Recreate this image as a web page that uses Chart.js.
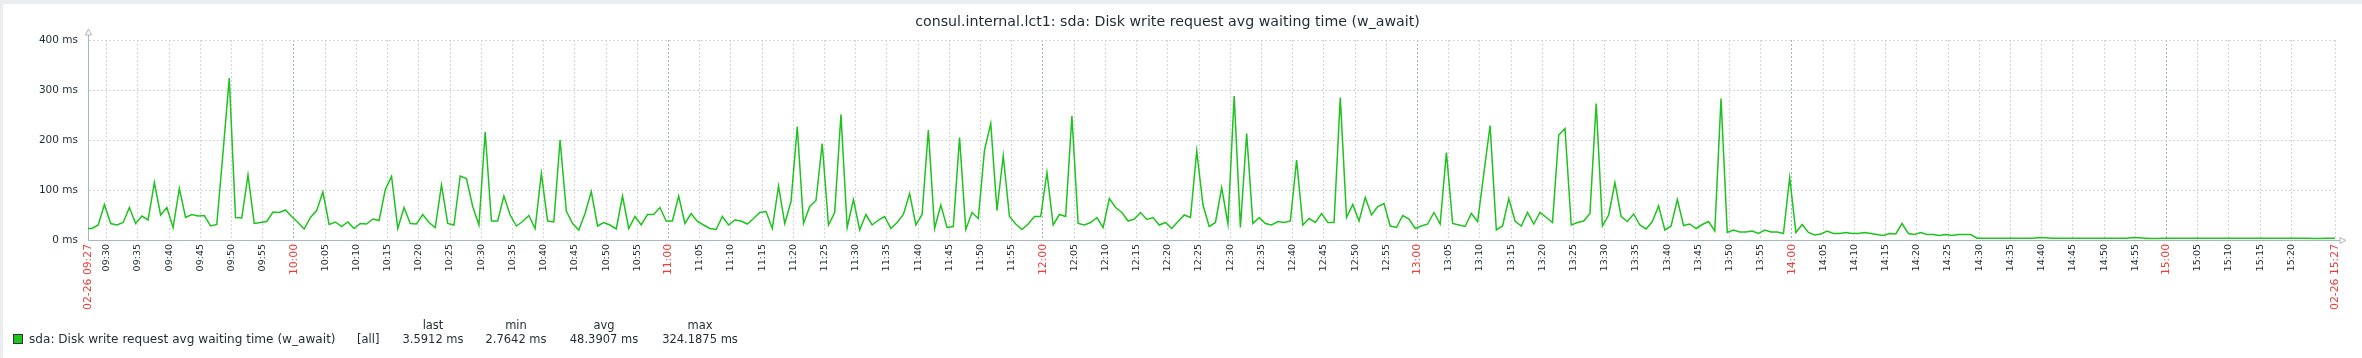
<!DOCTYPE html>
<html><head><meta charset="utf-8">
<script src="https://cdn.jsdelivr.net/npm/chart.js@4.4.1/dist/chart.umd.min.js"></script>
<style>
html,body{margin:0;padding:0;background:#ebeef0;}
#wrap{position:relative;width:2362px;height:358px;overflow:hidden;}
#c{position:absolute;left:0;top:0;}
.lg{position:absolute;font-family:"DejaVu Sans";font-size:11.5px;color:#1f2c33;white-space:nowrap;line-height:14px;height:14px;}
.big{font-size:12.1px;}
.ctr{transform:translateX(-50%);}
#sq{position:absolute;left:13px;top:334px;width:8px;height:8px;background:#1ec31e;border:1px solid #2b3a2e;}
</style></head><body>
<div id="wrap"><canvas id="c" width="2362" height="358"></canvas><div id="legend"></div></div>
<script>
// ---- data ----
const chartTitle = 'consul.internal.lct1: sda: Disk write request avg waiting time (w_await)';
const seriesName = 'sda: Disk write request avg waiting time (w_await)';
const seriesScope = '[all]';
const axisStart = '09:27';          // left edge of the time axis
const firstSample = '09:26:38';     // time of first sample, 1 sample per minute
const values = [
23,23,30,71,33,30,35,65,33,48,
40,115,50,65,25,103,45,51,48,49,
28,31,175,324,45,44,130,33,35,37,
56,55,60,47,35,22,45,59,96,31,
36,27,36,23,33,32,42,39,101,127,
23,65,33,32,51,35,25,110,33,30,
128,123,67,30,216,38,38,88,50,28,
37,49,23,133,38,36,200,58,33,20,
53,97,28,35,30,22,88,23,47,30,
51,51,65,38,38,88,33,53,37,30,
23,21,47,30,40,38,32,43,55,57,
23,108,33,77,227,33,67,79,193,30,
55,251,25,81,20,51,30,40,47,23,
35,51,93,30,51,220,23,70,25,27,
205,21,55,43,180,233,59,168,47,32,
21,32,47,47,135,30,51,47,248,33,
30,35,45,25,83,65,55,38,42,55,
41,45,30,35,23,37,50,45,178,70,
27,35,105,32,288,25,213,33,45,33,
30,37,35,38,160,30,43,35,53,35,
35,285,45,71,38,85,50,67,73,28,
25,49,42,23,28,32,55,32,175,33,
30,27,53,37,133,229,20,28,83,38,
28,55,32,55,45,35,210,223,30,35,
38,53,273,28,50,115,47,37,52,30,
22,37,68,20,28,81,29,32,23,31,
37,18,283,15,20,16,16,18,13,20,
16,16,13,125,15,31,15,10,12,18,
13,13,15,13,13,15,13,11,9,13,
12,33,13,11,15,11,11,9,11,9,
11,11,11,3.6,3.5,3.4,3.5,3.4,3.4,3.5,
3.4,3.5,3.6,5.0,4.3,3.5,3.4,3.5,3.4,3.5,
3.4,3.5,3.4,3.5,3.4,3.5,3.5,3.6,4.9,4.4,
3.6,3.0,2.8,3.3,3.5,3.5,3.4,3.5,3.5,3.4,
3.5,3.5,3.4,3.5,3.5,3.4,3.5,3.5,3.4,3.5,
3.5,3.4,3.5,3.5,3.4,3.5,3.5,2.9,2.8,3.3,
3.6,3.6
];
const yTickValues = [0,100,200,300,400];
const yTickLabels = ['0 ms','100 ms','200 ms','300 ms','400 ms'];
const xTickLabels = ['02-26 09:27',
'09:30','09:35','09:40','09:45','09:50','09:55',
'10:00','10:05','10:10','10:15','10:20','10:25','10:30','10:35','10:40','10:45','10:50','10:55',
'11:00','11:05','11:10','11:15','11:20','11:25','11:30','11:35','11:40','11:45','11:50','11:55',
'12:00','12:05','12:10','12:15','12:20','12:25','12:30','12:35','12:40','12:45','12:50','12:55',
'13:00','13:05','13:10','13:15','13:20','13:25','13:30','13:35','13:40','13:45','13:50','13:55',
'14:00','14:05','14:10','14:15','14:20','14:25','14:30','14:35','14:40','14:45','14:50','14:55',
'15:00','15:05','15:10','15:15','15:20',
'02-26 15:27'];
const statHeaders = ['last','min','avg','max'];
const statValues = ['3.5912 ms','2.7642 ms','48.3907 ms','324.1875 ms'];

// ---- helpers ----
function minutesOf(t){const p=t.split(':').map(Number);return p[0]*60+p[1]+(p[2]||0)/60;}
const t0 = minutesOf(axisStart);
const xTickPos = xTickLabels.map(l=>minutesOf(l.slice(-5))-t0);
const s0 = minutesOf(firstSample)-t0;
const points = values.map((v,i)=>({x:s0+i,y:v}));
const isRed = l => l.endsWith(':00') || l.includes('-');
const FONT = 'DejaVu Sans';
const TEXT = '#1f2c33', RED = '#e8403a', AXIS = '#aab7bf';

const bgPlugin = {id:'bg', beforeDraw(ch){const c=ch.ctx;c.save();c.fillStyle='#ebeef0';c.fillRect(0,0,ch.width,ch.height);c.fillStyle='#ffffff';c.fillRect(3,4,ch.width-3,ch.height-4);c.restore();}};
const arrowPlugin = {id:'arrows', afterDraw(ch){
  const c=ch.ctx, a=ch.chartArea; c.save(); c.strokeStyle=AXIS; c.lineWidth=1;
  const lx=Math.round(a.left)+0.5, by=Math.round(a.bottom)+0.5;
  c.beginPath(); c.moveTo(lx,a.top); c.lineTo(lx,a.top-5); c.stroke();
  c.beginPath(); c.moveTo(lx-3,a.top-5); c.lineTo(lx,a.top-11); c.lineTo(lx+3,a.top-5); c.closePath(); c.stroke();
  c.beginPath(); c.moveTo(a.right,by); c.lineTo(a.right+5,by); c.stroke();
  c.beginPath(); c.moveTo(a.right+5,by-3); c.lineTo(a.right+11,by); c.lineTo(a.right+5,by+3); c.closePath(); c.stroke();
  c.restore();}};

new Chart(document.getElementById('c'), {
  type:'line',
  data:{datasets:[{data:points, borderColor:'#1ec31e', borderWidth:1.5, pointRadius:0, tension:0, fill:false}]},
  options:{
    responsive:false, animation:false, devicePixelRatio:1,
    layout:{padding:{left:0,right:27,top:0,bottom:0}},
    plugins:{legend:{display:false}, tooltip:{enabled:false},
      title:{display:true, text:chartTitle, color:TEXT, font:{family:FONT,size:14.2,weight:'normal',lineHeight:1.2}, padding:{top:13.5,bottom:9.46}}},
    scales:{
      x:{type:'linear', min:0, max:360,
        afterBuildTicks:s=>{s.ticks=xTickPos.map(v=>({value:v}));},
        afterFit:s=>{s.height=118;},
        ticks:{autoSkip:false, minRotation:90, maxRotation:90, padding:4,
          callback:(v,i)=>xTickLabels[i],
          color:ctx=>isRed(xTickLabels[ctx.index]||'')?RED:TEXT,
          font:ctx=>isRed(xTickLabels[ctx.index]||'')?{family:FONT,size:10.8}:{family:FONT,size:9.5}},
        grid:{drawTicks:false, lineWidth:1, color:ctx=>{const l=xTickLabels[ctx.index]||'';return l.endsWith(':00')?'#a7b3ba':'#cfd7db';}},
        border:{color:AXIS, width:1, dash:[2,2]}},
      y:{min:0, max:400,
        afterBuildTicks:s=>{s.ticks=yTickValues.map(v=>({value:v}));},
        afterFit:s=>{s.width=88;},
        ticks:{padding:10, callback:(v,i)=>yTickLabels[i], color:TEXT, font:{family:FONT,size:10.5}},
        grid:{drawTicks:false, lineWidth:1, color:'#cfd7db'},
        border:{color:AXIS, width:1, dash:[2,2]}}
    }
  },
  plugins:[bgPlugin, arrowPlugin]
});

// ---- legend (HTML text) ----
const lg=document.getElementById('legend');
function add(txt,left,top,center,cls){const d=document.createElement('div');d.className='lg'+(center?' ctr':'')+(cls?' '+cls:'');d.textContent=txt;d.style.left=left+'px';d.style.top=top+'px';lg.appendChild(d);return d;}
const sq=document.createElement('div');sq.id='sq';lg.appendChild(sq);
add(seriesName,29,331.5,false,'big');
add(seriesScope,357,332,false);
const colCenters=[433,516,604,700];
statHeaders.forEach((h,i)=>add(h,colCenters[i],318,true));
statValues.forEach((h,i)=>add(h,colCenters[i],332,true));
</script>
</body></html>
